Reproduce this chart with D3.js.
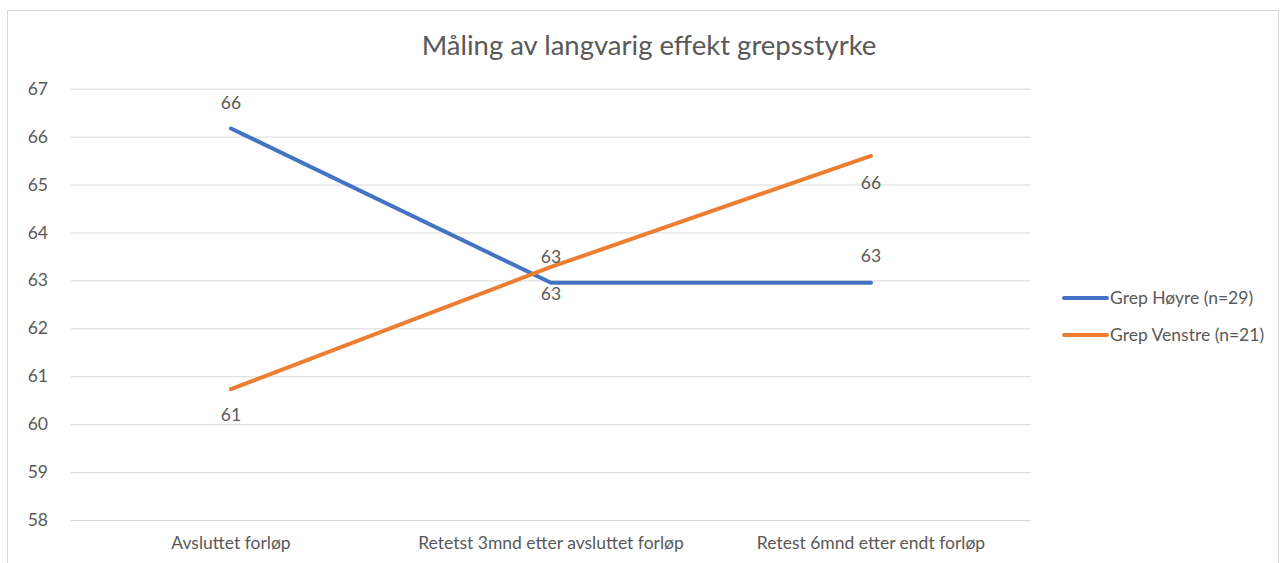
<!DOCTYPE html>
<html>
<head>
<meta charset="utf-8">
<script src="https://cdn.jsdelivr.net/npm/d3@7"></script>
<style>
	body { margin: 0; background: #fff; }
	svg text { font-family: Lato, "Open Sans", sans-serif; fill: #595959; }
</style>
</head>
<body>
<div id="chart"></div>
<script>
// data
const categories = ['Avsluttet forløp', 'Retetst 3mnd etter avsluttet forløp', 'Retest 6mnd etter endt forløp'];
const seriesNames = ['Grep Høyre (n=29)', 'Grep Venstre (n=21)'];
const hoyreValues = [66.17, 62.95, 62.95];
const venstreValues = [60.73, 63.28, 65.6];
const yTicks = [58, 59, 60, 61, 62, 63, 64, 65, 66, 67];

// label placement (px from the point, label centre), kept apart from the data
const hoyreLabelOffset = [-26, 11, -27];
const venstreLabelOffset = [26, -10, 27];

const colors = ['#4472C4', '#ED7D31'];

const dims = {
	width: 1281,
	height: 563,
	plot: { left: 71, right: 1031, top: 88.7, bottom: 520 },
	fontSize: 17.5,
};

const svg = d3.select('#chart').append('svg')
	.attr('width', dims.width)
	.attr('height', dims.height);

// chart frame
svg.append('rect')
	.attr('x', 7.5).attr('y', 10.5)
	.attr('width', 1271).attr('height', 600)
	.attr('fill', 'none')
	.attr('stroke', '#d9d9d9');

const x = d3.scaleBand()
	.domain(categories)
	.range([dims.plot.left, dims.plot.right]);

const y = d3.scaleLinear()
	.domain([d3.min(yTicks), d3.max(yTicks)])
	.range([dims.plot.bottom, dims.plot.top]);

// title
svg.append('text')
	.attr('x', 649).attr('y', 55)
	.attr('text-anchor', 'middle')
	.style('font-size', '27.5px')
	.text('Måling av langvarig effekt grepsstyrke');

// gridlines + y labels
const yAxis = d3.axisLeft(y)
	.tickValues(yTicks)
	.tickSize(-(dims.plot.right - dims.plot.left))
	.tickPadding(23)
	.tickFormat(d3.format('d'));

const yAxisGroup = svg.append('g')
	.attr('transform', `translate(${dims.plot.left},0)`)
	.call(yAxis);
yAxisGroup.select('.domain').remove();
yAxisGroup.selectAll('line').attr('stroke', '#d9d9d9').attr('stroke-width', 1);
yAxisGroup.selectAll('text').style('font-size', `${dims.fontSize}px`).attr('fill', '#595959');

// category labels
const xAxis = d3.axisBottom(x).tickSize(0).tickPadding(17);
const xAxisGroup = svg.append('g')
	.attr('transform', `translate(0,${dims.plot.bottom})`)
	.call(xAxis);
xAxisGroup.select('.domain').remove();
xAxisGroup.selectAll('text').style('font-size', `${dims.fontSize}px`).attr('fill', '#595959');

const series = [
	{ name: seriesNames[0], values: hoyreValues, labelOffset: hoyreLabelOffset, color: colors[0] },
	{ name: seriesNames[1], values: venstreValues, labelOffset: venstreLabelOffset, color: colors[1] },
];

const line = d3.line()
	.x((d, i) => x(categories[i]) + x.bandwidth() / 2)
	.y(d => y(d));

series.forEach((s) => {
	svg.append('path')
		.datum(s.values)
		.attr('d', line)
		.attr('fill', 'none')
		.attr('stroke', s.color)
		.attr('stroke-width', 4)
		.attr('stroke-linecap', 'round')
		.attr('stroke-linejoin', 'round');
});

// value labels
series.forEach((s) => {
	svg.append('g').selectAll('text')
		.data(s.values)
		.enter()
		.append('text')
		.attr('x', (d, i) => x(categories[i]) + x.bandwidth() / 2)
		.attr('y', (d, i) => y(d) + s.labelOffset[i])
		.attr('dy', '0.35em')
		.attr('text-anchor', 'middle')
		.style('font-size', `${dims.fontSize}px`)
		.attr('fill', '#404040')
		.text(d => d3.format('.0f')(d));
});

// legend
const legend = svg.append('g').attr('transform', 'translate(1064,298)');
series.forEach((s, i) => {
	const row = legend.append('g').attr('transform', `translate(0,${i * 37})`);
	row.append('line')
		.attr('x1', 0).attr('x2', 43)
		.attr('stroke', s.color)
		.attr('stroke-width', 4)
		.attr('stroke-linecap', 'round');
	row.append('text')
		.attr('x', 46).attr('y', 0)
		.attr('dy', '0.35em')
		.style('font-size', `${dims.fontSize}px`)
		.text(s.name);
});
</script>
</body>
</html>
